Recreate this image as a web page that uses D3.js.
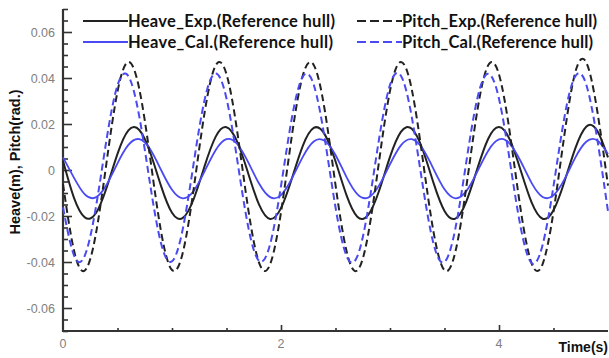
<!DOCTYPE html>
<html>
<head>
<meta charset="utf-8">
<script src="https://cdn.jsdelivr.net/npm/d3@7"></script>
<style>
  html, body { margin: 0; padding: 0; background: #fff; }
  svg { display: block; }
</style>
</head>
<body>
<svg id="chart" width="609" height="358"></svg>
<script>
// Sample times (s)
const times = [0,0.1,0.2,0.3,0.4,0.5,0.6,0.7,0.8,0.9,1.0,1.1,1.2,1.3,1.4,1.5,1.6,1.7,1.8,1.9,2.0,2.1,2.2,2.3,2.4,2.5,2.6,2.7,2.8,2.9,3.0,3.1,3.2,3.3,3.4,3.5,3.6,3.7,3.8,3.9,4.0,4.1,4.2,4.3,4.4,4.5,4.6,4.7,4.8,4.9,5.0];

// Heave (m), experiment
const heaveExp = [0.0040,-0.0120,-0.0206,-0.0189,-0.0077,0.0070,0.0172,0.0174,0.0076,-0.0070,-0.0186,-0.0208,-0.0125,0.0018,0.0144,0.0186,0.0121,-0.0016,-0.0152,-0.0213,-0.0166,-0.0037,0.0105,0.0183,0.0156,0.0038,-0.0108,-0.0203,-0.0195,-0.0090,0.0057,0.0166,0.0179,0.0088,-0.0057,-0.0178,-0.0211,-0.0137,0.0004,0.0135,0.0187,0.0131,-0.0003,-0.0142,-0.0212,-0.0175,-0.0051,0.0094,0.0188,0.0172,0.0055];
// Heave (m), calculation
const heaveCal = [0.0055,-0.0033,-0.0106,-0.0119,-0.0064,0.0029,0.0109,0.0134,0.0090,0.0000,-0.0086,-0.0123,-0.0090,-0.0005,0.0086,0.0134,0.0112,0.0033,-0.0060,-0.0118,-0.0109,-0.0037,0.0057,0.0124,0.0127,0.0065,-0.0030,-0.0105,-0.0120,-0.0067,0.0025,0.0107,0.0134,0.0092,0.0004,-0.0084,-0.0123,-0.0092,-0.0008,0.0083,0.0133,0.0114,0.0037,-0.0057,-0.0117,-0.0110,-0.0041,0.0054,0.0123,0.0129,0.0070];
// Pitch (rad.), experiment
const pitchExp = [-0.0061,-0.0348,-0.0437,-0.0282,0.0035,0.0341,0.0470,0.0352,0.0052,-0.0269,-0.0435,-0.0358,-0.0078,0.0253,0.0454,0.0417,0.0162,-0.0172,-0.0405,-0.0410,-0.0184,0.0150,0.0411,0.0457,0.0264,-0.0065,-0.0350,-0.0437,-0.0279,0.0039,0.0344,0.0470,0.0350,0.0048,-0.0271,-0.0436,-0.0355,-0.0074,0.0255,0.0455,0.0415,0.0159,-0.0176,-0.0407,-0.0409,-0.0182,0.0153,0.0425,0.0468,0.0261,-0.0068];
// Pitch (rad.), calculation
const pitchCal = [-0.0162,-0.0370,-0.0372,-0.0167,0.0134,0.0368,0.0408,0.0232,-0.0064,-0.0320,-0.0397,-0.0254,0.0033,0.0307,0.0420,0.0311,0.0039,-0.0249,-0.0396,-0.0323,-0.0070,0.0227,0.0406,0.0371,0.0140,-0.0162,-0.0372,-0.0376,-0.0167,0.0136,0.0370,0.0410,0.0230,-0.0066,-0.0322,-0.0400,-0.0254,0.0035,0.0309,0.0418,0.0310,0.0037,-0.0252,-0.0405,-0.0326,-0.0070,0.0229,0.0408,0.0372,0.0138,-0.0180];

const seriesNames = ["Heave_Exp.(Reference hull)", "Heave_Cal.(Reference hull)", "Pitch_Exp.(Reference hull)", "Pitch_Cal.(Reference hull)"];
const seriesValues = [heaveExp, heaveCal, pitchExp, pitchCal];

const xTickValues = [0, 2, 4];
const yTickValues = [-0.06, -0.04, -0.02, 0, 0.02, 0.04, 0.06];
const yTickLabels = ["-0.06", "-0.04", "-0.02", "0", "0.02", "0.04", "0.06"];

// Styling
const colors = ["#222222", "#4a4af2", "#222222", "#4a4af2"];
const dashes = [null, null, "7,4", "7,4"];
const widths = [2, 1.8, 2, 2];

const svg = d3.select("#chart");
const plotLeft = 63, plotRight = 608, plotTop = 9, plotBottom = 331;

const x = d3.scaleLinear().domain([0, 5]).range([plotLeft, plotRight]);
const y = d3.scaleLinear().domain([-0.07, 0.07]).range([plotBottom, plotTop]);

const axisColor = "#333";
const labelColor = "#808080";

// Y axis: major + minor ticks pointing inward
const yMinor = d3.range(-14, 15).filter(i => i % 4 !== 0).map(i => i * 0.005);
const yAxisMajor = d3.axisRight(y).tickValues(yTickValues).tickSize(9).tickFormat("");
const yAxisMinor = d3.axisRight(y).tickValues(yMinor).tickSize(5).tickFormat("");
[yAxisMinor, yAxisMajor].forEach(ax => {
  const g = svg.append("g").attr("transform", `translate(${plotLeft},0)`).call(ax);
  g.select(".domain").remove();
  g.selectAll("line").attr("stroke", axisColor).attr("stroke-width", 1.6);
});

// X axis ticks pointing up
const xMinor = d3.range(1, 10).filter(i => i % 4 !== 0).map(i => i * 0.5);
const xAxisMajor = d3.axisTop(x).tickValues(xTickValues.filter(v => v > 0)).tickSize(6).tickFormat("");
const xAxisMinor = d3.axisTop(x).tickValues(xMinor).tickSize(3).tickFormat("");
[xAxisMinor, xAxisMajor].forEach(ax => {
  const g = svg.append("g").attr("transform", `translate(0,${plotBottom})`).call(ax);
  g.select(".domain").remove();
  g.selectAll("line").attr("stroke", axisColor).attr("stroke-width", 1.6);
});

// Axis lines
svg.append("line").attr("x1", plotLeft).attr("x2", plotLeft).attr("y1", plotTop).attr("y2", plotBottom + 1)
  .attr("stroke", axisColor).attr("stroke-width", 2.2);
svg.append("line").attr("x1", plotLeft - 1).attr("x2", plotRight).attr("y1", plotBottom).attr("y2", plotBottom)
  .attr("stroke", axisColor).attr("stroke-width", 2.2);

// Tick labels
svg.append("g").selectAll("text").data(yTickValues).join("text")
  .attr("x", 55).attr("y", d => y(d) + 4.5)
  .attr("text-anchor", "end")
  .attr("font-family", "Liberation Sans, Arial, sans-serif")
  .attr("font-size", 12.5).attr("fill", labelColor)
  .text((d, i) => yTickLabels[i]);

svg.append("g").selectAll("text").data(xTickValues).join("text")
  .attr("x", d => x(d)).attr("y", 348)
  .attr("text-anchor", "middle")
  .attr("font-family", "Liberation Sans, Arial, sans-serif")
  .attr("font-size", 12.5).attr("fill", labelColor)
  .text(d => d);

// Axis titles
svg.append("text")
  .attr("transform", `translate(20,162) rotate(-90)`)
  .attr("text-anchor", "middle")
  .attr("font-family", "Liberation Sans, Arial, sans-serif")
  .attr("font-weight", "bold").attr("font-size", 14.5).attr("fill", "#111")
  .text("Heave(m), Pitch(rad.)");

svg.append("text")
  .attr("x", plotRight).attr("y", 352)
  .attr("text-anchor", "end")
  .attr("font-family", "Liberation Sans, Arial, sans-serif")
  .attr("font-weight", "bold").attr("font-size", 14).attr("fill", "#111")
  .text("Time(s)");

// Curves
const line = d3.line()
  .x((d, i) => x(times[i]))
  .y(d => y(d))
  .curve(d3.curveNatural);

seriesValues.forEach((vals, i) => {
  svg.append("path")
    .datum(vals)
    .attr("d", line)
    .attr("fill", "none")
    .attr("stroke", colors[i])
    .attr("stroke-width", widths[i])
    .attr("stroke-dasharray", dashes[i]);
});

// Legend
const legendPos = [[83, 21], [83, 42], [357, 21], [357, 42]];
const legendTextLen = [207, 205, 195, 191];
const legendLineLen = 45;
seriesNames.forEach((name, i) => {
  const [lx, ly] = legendPos[i];
  svg.append("line")
    .attr("x1", lx).attr("x2", lx + legendLineLen)
    .attr("y1", ly).attr("y2", ly)
    .attr("stroke", colors[i]).attr("stroke-width", 2.2)
    .attr("stroke-dasharray", dashes[i] ? "9,4" : null);
  svg.append("text")
    .attr("x", lx + legendLineLen).attr("y", ly + 6)
    .attr("font-family", "Lato, sans-serif")
    .attr("font-weight", "bold").attr("font-size", 16.5).attr("fill", "#111")
    .attr("textLength", legendTextLen[i])
    .attr("lengthAdjust", "spacing")
    .text(name);
});
</script>
</body>
</html>
